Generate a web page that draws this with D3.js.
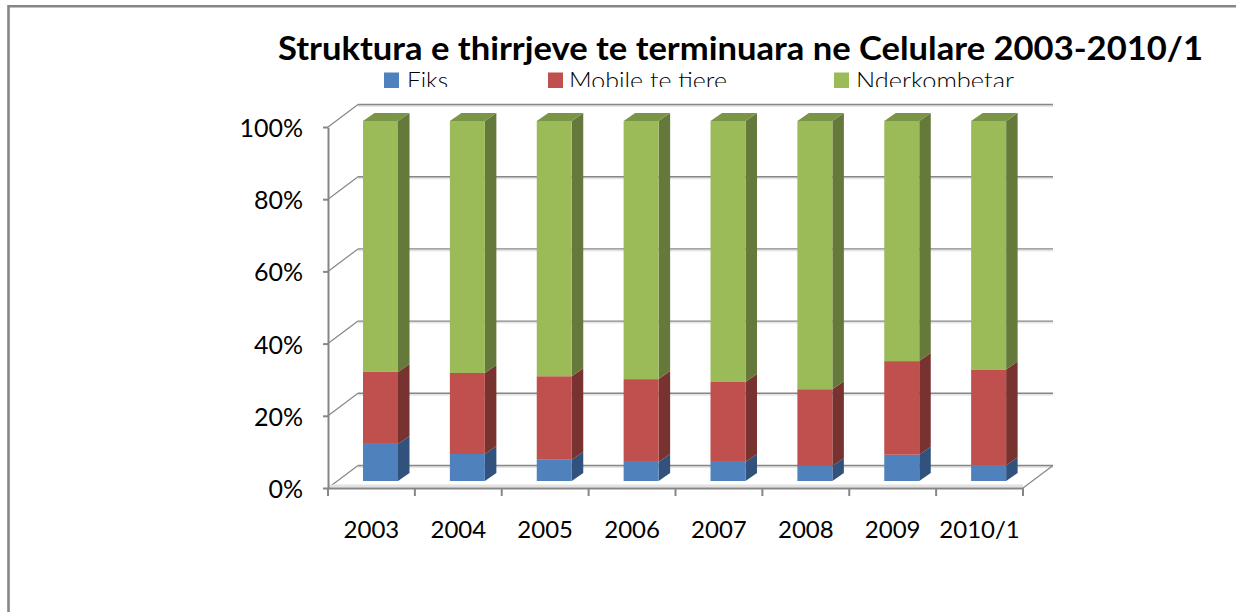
<!DOCTYPE html>
<html><head><meta charset="utf-8">
<script src="https://cdn.jsdelivr.net/npm/d3@7"></script>
<style>
html,body{margin:0;padding:0;background:#fff}
svg{display:block}
text{font-family:Lato,"Open Sans",sans-serif;fill:#000}
.axis path,.axis line{stroke:#868686}
.axis text{font-size:25px;font-family:Lato,sans-serif;font-weight:300;fill:#000}
</style></head><body>
<svg id="c" width="1236" height="612"></svg>
<script>
const chartTitle = "Struktura e thirrjeve te terminuara ne Celulare 2003-2010/1";
const categories = ["2003","2004","2005","2006","2007","2008","2009","2010/1"];
const seriesNames = ["Fiks","Mobile te tiere","Nderkombetar"];
const fiks = [10.3,7.5,5.9,5.3,5.3,4.2,7.3,4.4];
const mobile = [20.0,22.5,23.2,23.0,22.2,21.3,26.0,26.6];
const nderkombetar = [69.7,70.0,70.9,71.7,72.5,74.5,66.7,69.0];
const yTicks = [0,20,40,60,80,100];
const faceColors = ["#4F81BD","#C0504D","#9BBB59"];
const sideColors = ["#30527C","#783230","#65793A"];
const topColor = "#7B9546";

const svg = d3.select("#c");
const depthX = 30, depthY = 22.5;
const barDX = 11.5, barDY = 8, barW = 35, barOff = 35;
const x = d3.scaleBand().domain(categories).range([328,1023]).padding(0);
const yFront = d3.scaleLinear().domain([0,100]).range([488,127]);
const yBar = d3.scaleLinear().domain([0,100]).range([481,121]);

// frame
svg.append("path").attr("d","M8.5,612V6.2H1236").attr("fill","none").attr("stroke","#868686").attr("stroke-width",2.6);

// title
svg.append("text").attr("x",278).attr("y",60).attr("font-size",33).attr("font-weight",700)
  .attr("textLength",925).attr("lengthAdjust","spacingAndGlyphs").text(chartTitle);

// legend, clipped at its bottom edge as in the picture
svg.append("clipPath").attr("id","lc").append("rect").attr("x",370).attr("y",60).attr("width",700).attr("height",27);
const legendX = [384,548,834], legendTextX = [407,569,856], legendEnd=[448,727,1014];
const lg = svg.append("g").attr("clip-path","url(#lc)");
seriesNames.forEach((n,i)=>{
  svg.append("rect").attr("x",legendX[i]).attr("y",72.5).attr("width",15).attr("height",15.5).attr("fill",faceColors[i]);
  lg.append("text").attr("x",legendTextX[i]).attr("y",89).attr("font-size",24).attr("font-weight",300)
    .attr("textLength",legendEnd[i]-legendTextX[i]).attr("lengthAdjust","spacingAndGlyphs").text(n);
});

// wall gridlines with slanted side-wall part
const grid = svg.append("g");
yTicks.forEach(t=>{
  const yb = yFront(t)-depthY;
  grid.append("line").attr("x1",328+depthX).attr("x2",1023+depthX).attr("y1",yb+1.5).attr("y2",yb+1.5).attr("stroke","#e6e6e6").attr("stroke-width",2);
  grid.append("line").attr("x1",328+depthX).attr("x2",1023+depthX).attr("y1",yb).attr("y2",yb).attr("stroke","#868686").attr("stroke-width",1.4);
  grid.append("line").attr("x1",328).attr("x2",328+depthX).attr("y1",yFront(t)).attr("y2",yb).attr("stroke","#868686").attr("stroke-width",1.2);
});
// floor
svg.append("line").attr("x1",1023).attr("y1",488).attr("x2",1023+depthX).attr("y2",488-depthY).attr("stroke","#868686").attr("stroke-width",1.2);
svg.append("line").attr("x1",328).attr("x2",1023).attr("y1",486).attr("y2",486).attr("stroke","#e2e2e2").attr("stroke-width",3);

// axes
const gy = svg.append("g").attr("class","axis").attr("transform","translate(328,0)")
  .call(d3.axisLeft(yFront).tickValues(yTicks).tickFormat(d=>d+"%").tickSize(5).tickSizeOuter(0).tickPadding(20));
gy.selectAll("path,line").attr("stroke-width",2);
gy.selectAll("text").attr("dy","0.38em").attr("font-weight",400).style("font-weight",400);
const gx = svg.append("g").attr("class","axis").attr("transform","translate(0,488)")
  .call(d3.axisBottom(x).tickSize(0).tickPadding(30));
gx.selectAll("path").attr("stroke-width",2);
gx.selectAll("text").attr("dy",0).attr("y",50).style("font-size","24px").style("font-weight",400);
const xTickPos = categories.map(c=>x(c)).concat([x.range()[1]]);
gx.selectAll(".edge").data(xTickPos).enter().append("line").attr("class","edge")
  .attr("x1",d=>d).attr("x2",d=>d).attr("y1",0).attr("y2",8).attr("stroke","#868686").attr("stroke-width",2);

// stacked 3D bars
const table = categories.map((c,i)=>({cat:c,s0:fiks[i],s1:mobile[i],s2:nderkombetar[i]}));
const stack = d3.stack().keys(["s0","s1","s2"])(table);
const bars = svg.append("g");
categories.forEach((c,ci)=>{
  const x0 = x(c)+barOff, x1 = x0+barW;
  stack.forEach((layer,si)=>{
    const [a,b] = layer[ci];
    const yt = yBar(b), yb = yBar(a);
    bars.append("path").attr("d",d3.line()([[x1,yb],[x1+barDX,yb-barDY],[x1+barDX,yt-barDY],[x1,yt]])+"Z").attr("fill",sideColors[si]);
    bars.append("rect").attr("x",x0).attr("y",yt).attr("width",barW).attr("height",yb-yt).attr("fill",faceColors[si]);
    if(si===2) bars.append("path").attr("d",d3.line()([[x0,yt],[x0+barDX,yt-barDY],[x1+barDX,yt-barDY],[x1,yt]])+"Z").attr("fill",topColor);
  });
});
</script></body></html>
